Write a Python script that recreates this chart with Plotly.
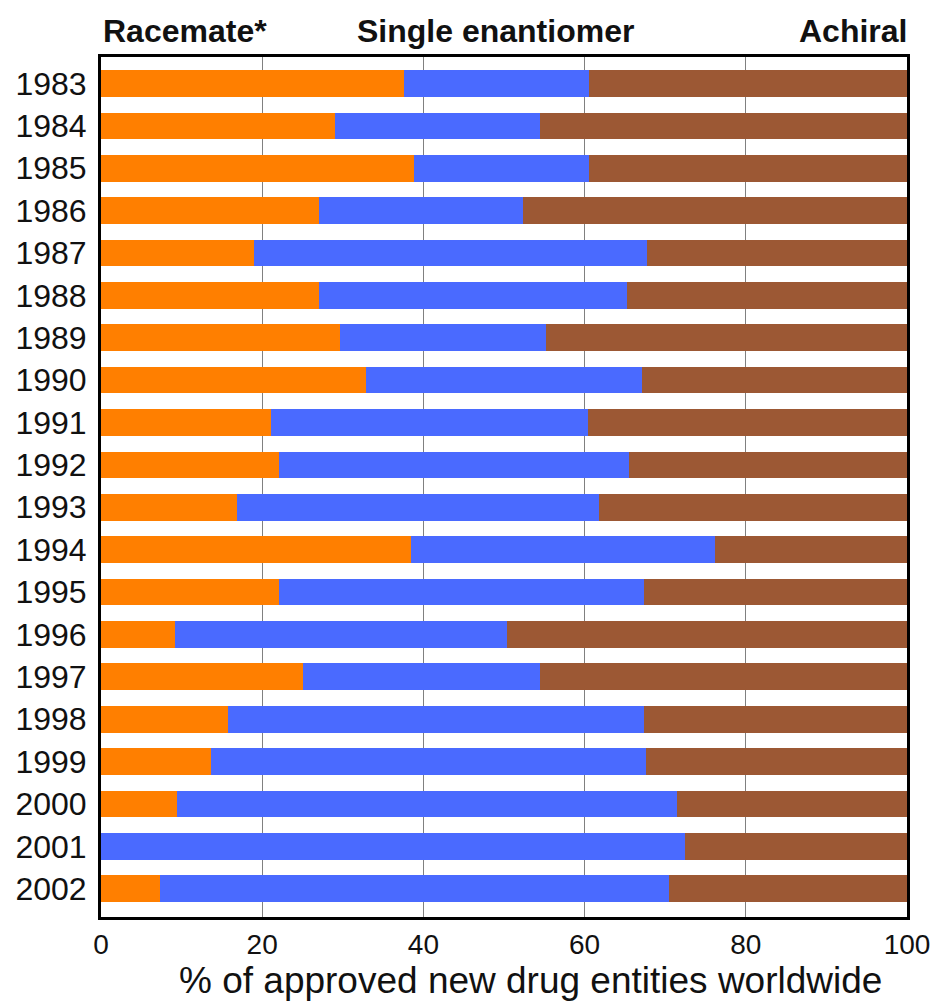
import plotly.graph_objects as go

years = [1983, 1984, 1985, 1986, 1987, 1988, 1989, 1990, 1991, 1992,
         1993, 1994, 1995, 1996, 1997, 1998, 1999, 2000, 2001, 2002]
racemate = [37.6, 29.0, 38.8, 27.0, 19.0, 27.1, 29.6, 32.9, 21.1, 22.1,
            16.9, 38.4, 22.1, 9.2, 25.1, 15.7, 13.7, 9.4, 0.0, 7.3]
single = [22.9, 25.5, 21.8, 25.3, 48.8, 38.2, 25.6, 34.2, 39.3, 43.4,
          44.9, 37.8, 45.3, 41.2, 29.4, 51.7, 53.9, 62.1, 72.4, 63.2]
achiral = [39.5, 45.5, 39.4, 47.7, 32.2, 34.7, 44.8, 32.9, 39.6, 34.5,
           38.2, 23.8, 32.6, 49.6, 45.5, 32.6, 32.4, 28.5, 27.6, 29.5]
year_labels = [str(y) for y in years]
x_ticks = [0, 20, 40, 60, 80, 100]

series = [
    ("Racemate*", racemate, "#FF7F00"),
    ("Single enantiomer", single, "#4A6AFF"),
    ("Achiral", achiral, "#9C5834"),
]

fig = go.Figure()
for name, vals, col in series:
    fig.add_trace(go.Bar(
        x=vals, y=years, orientation="h", name=name,
        marker=dict(color=col, line=dict(width=0)),
        width=0.63, showlegend=False,
    ))

fig.update_layout(
    barmode="stack",
    width=931, height=1001,
    margin=dict(l=101, r=24, t=57, b=84, pad=0, autoexpand=False),
    paper_bgcolor="white", plot_bgcolor="white",
    font=dict(family="Liberation Sans, Arial, sans-serif", color="#111111"),
)

fig.update_xaxes(
    range=[0, 100], tickvals=x_ticks, ticktext=[str(v) for v in x_ticks],
    showgrid=True, gridcolor="#808080", gridwidth=1,
    showline=True, linecolor="black", linewidth=3, mirror=True,
    ticks="", ticklabelstandoff=0, automargin=False,
    tickfont=dict(size=28, color="#111111"),
    zeroline=False,
)
fig.update_yaxes(
    range=[2002.668, 1982.375], tickvals=years, ticktext=year_labels,
    showgrid=False, showline=True, linecolor="black", linewidth=3, mirror=True,
    ticks="", ticklabelstandoff=5, automargin=False,
    tickfont=dict(size=32, color="#111111"),
    zeroline=False,
)

title_font = dict(family="Liberation Sans, Arial, sans-serif", size=32, color="#111111")
fig.add_annotation(x=0, y=1, xref="x", yref="paper", text="<b>Racemate*</b>",
                   xanchor="left", yanchor="bottom", yshift=6, showarrow=False, font=title_font)
fig.add_annotation(x=49, y=1, xref="x", yref="paper", text="<b>Single enantiomer</b>",
                   xanchor="center", yanchor="bottom", yshift=6, showarrow=False, font=title_font)
fig.add_annotation(x=100, y=1, xref="x", yref="paper", text="<b>Achiral</b>",
                   xanchor="right", yanchor="bottom", yshift=6, xshift=2, showarrow=False, font=title_font)
fig.add_annotation(x=53.3, y=0, xref="x", yref="paper",
                   text="% of approved new drug entities worldwide",
                   xanchor="center", yanchor="middle", yshift=-63, showarrow=False,
                   font=dict(family="Liberation Sans, Arial, sans-serif", size=37, color="#111111"))

fig.write_html("out.html", config={"displayModeBar": False},
               post_script="document.body.style.margin='0';document.body.style.overflow='hidden';")
